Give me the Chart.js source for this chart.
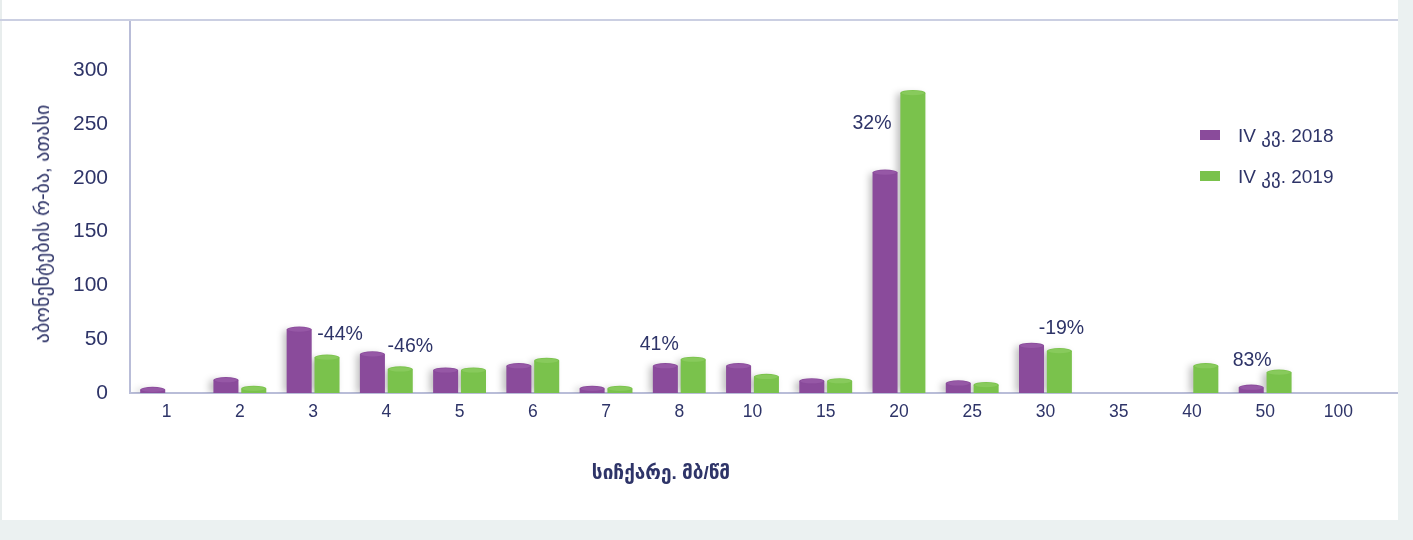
<!DOCTYPE html>
<html>
<head>
<meta charset="utf-8">
<title>სიჩქარე</title>
<script src="https://cdn.jsdelivr.net/npm/chart.js@4"></script>
<style>
  body { margin: 0; width: 1413px; height: 540px; overflow: hidden; background: #ebf1f1;
         font-family: "Liberation Sans", "DejaVu Sans", sans-serif; color: #2e3468; }
  #panel { position: absolute; left: 0; top: 0; width: 1396px; height: 520px; background: #fff;
           border-left: 2px solid #e8eded; }
  #topline { position: absolute; left: 0; top: 19px; width: 1398px; height: 2px; background: #cbcfe2; }
  canvas { position: absolute; left: 0; top: 0; }
  #ytitle { position: absolute; left: 42px; top: 224px; transform: translate(-50%, -50%) rotate(-90deg);
            white-space: nowrap; font-size: 20px; }
  #xtitle { position: absolute; left: 661px; top: 472px; transform: translate(-50%, -50%);
            white-space: nowrap; font-size: 19px; font-weight: bold; }
  #legend { position: absolute; left: 1200px; top: 124px; }
  .row { display: flex; align-items: center; height: 22px; margin-bottom: 19px; font-size: 19px; }
  .box { width: 20px; height: 10px; margin-right: 18px; }
</style>
</head>
<body>
<div id="panel"></div>
<div id="topline"></div>
<canvas id="chart" width="1398" height="520"></canvas>
<div id="ytitle">აბონენტების რ-ბა, ათასი</div>
<div id="xtitle">სიჩქარე. მბ/წმ</div>
<div id="legend"></div>
<script>
const speeds = ['1', '2', '3', '4', '5', '6', '7', '8', '10', '15', '20', '25', '30', '35', '40', '50', '100'];
const subs2018 = [3, 12, 59, 36, 21, 25, 4, 25, 25, 11, 205, 9, 44, null, null, 5, null];
const subs2019 = [null, 4, 33, 22, 21, 30, 4, 31, 15, 11, 279, 7.5, 39, null, 25, 19, null];
const changes = ['', '', '-44%', '-46%', '', '', '', '41%', '', '', '32%', '', '-19%', '', '', '83%', ''];
const seriesNames = ['IV კვ. 2018', 'IV კვ. 2019'];

const purple = '#8a4b9b';
const green = '#7ac24c';
const capColors = ['#9658a6', '#88ca5c'];
const textColor = '#2e3468';
const axisColor = '#b9bdd8';

// where each change label sits, relative to the category centre and the 2018 bar top
const labelOffsets = { 2: [27, 5], 3: [24, -8], 7: [-20, -21], 10: [-27, -49], 12: [16, -17], 15: [-13, -27] };

const barShadow = {
  id: 'barShadow',
  beforeDatasetsDraw(chart) {
    const c = chart.ctx;
    c.save();
    c.shadowColor = 'rgba(0,0,0,0.25)';
    c.shadowBlur = 7;
    c.shadowOffsetX = -4;
  },
  afterDatasetsDraw(chart) {
    chart.ctx.restore();
    // cylinder caps
    const c = chart.ctx;
    c.save();
    chart.data.datasets.forEach((ds, d) => {
      chart.getDatasetMeta(d).data.forEach((bar, i) => {
        if (ds.data[i] == null) return;
        const w = bar.width / 2;
        c.fillStyle = ds.backgroundColor;
        c.beginPath();
        c.ellipse(bar.x, bar.y, w, 3, 0, 0, Math.PI * 2);
        c.fill();
        c.fillStyle = capColors[d];
        c.beginPath();
        c.ellipse(bar.x, bar.y, w - 1, 2.2, 0, 0, Math.PI * 2);
        c.fill();
      });
    });
    c.restore();
  }
};

const extras = {
  id: 'extras',
  afterDraw(chart) {
    const c = chart.ctx;
    const area = chart.chartArea;
    c.save();
    c.strokeStyle = axisColor;
    c.lineWidth = 2;
    c.beginPath();
    c.moveTo(area.right, area.bottom);
    c.lineTo(chart.width, area.bottom);
    c.stroke();

    c.fillStyle = textColor;
    c.font = '19.5px "Liberation Sans", sans-serif';
    c.textAlign = 'center';
    c.textBaseline = 'middle';
    const meta = chart.getDatasetMeta(0);
    changes.forEach((txt, i) => {
      if (!txt) return;
      const off = labelOffsets[i] || [0, -15];
      const x = chart.scales.x.getPixelForValue(i);
      c.fillText(txt, x + off[0], meta.data[i].y + off[1]);
    });
    c.restore();
  }
};

new Chart(document.getElementById('chart'), {
  type: 'bar',
  data: {
    labels: speeds,
    datasets: [
      { label: seriesNames[0], data: subs2018, backgroundColor: purple },
      { label: seriesNames[1], data: subs2019, backgroundColor: green }
    ]
  },
  options: {
    responsive: false,
    animation: false,
    layout: { padding: { top: 22, right: 23, left: 0, bottom: 0 } },
    datasets: {
      bar: {
        categoryPercentage: 0.76,
        barPercentage: 0.9,
        borderSkipped: 'bottom'
      }
    },
    plugins: { legend: { display: false }, tooltip: { enabled: false } },
    scales: {
      x: {
        grid: { display: false, drawTicks: false },
        border: { color: axisColor, width: 2 },
        ticks: { color: textColor, font: { size: 17.5 }, padding: 9 },
        afterFit: s => { s.height = 127; s.paddingLeft = 0; s.paddingRight = 0; }
      },
      y: {
        min: 0,
        max: 345,
        grid: { display: false, drawTicks: false },
        border: { color: axisColor, width: 2 },
        ticks: { stepSize: 50, color: textColor, font: { size: 21 }, padding: 22 },
        afterBuildTicks: s => { s.ticks = s.ticks.filter(t => t.value % 50 === 0); },
        afterFit: s => { s.width = 130; s.paddingTop = 0; s.paddingBottom = 0; }
      }
    }
  },
  plugins: [barShadow, extras]
});

const legend = document.getElementById('legend');
[purple, green].forEach((col, i) => {
  const row = document.createElement('div');
  row.className = 'row';
  row.innerHTML = `<span class="box" style="background:${col}"></span><span>${seriesNames[i]}</span>`;
  legend.appendChild(row);
});
</script>
</body>
</html>
